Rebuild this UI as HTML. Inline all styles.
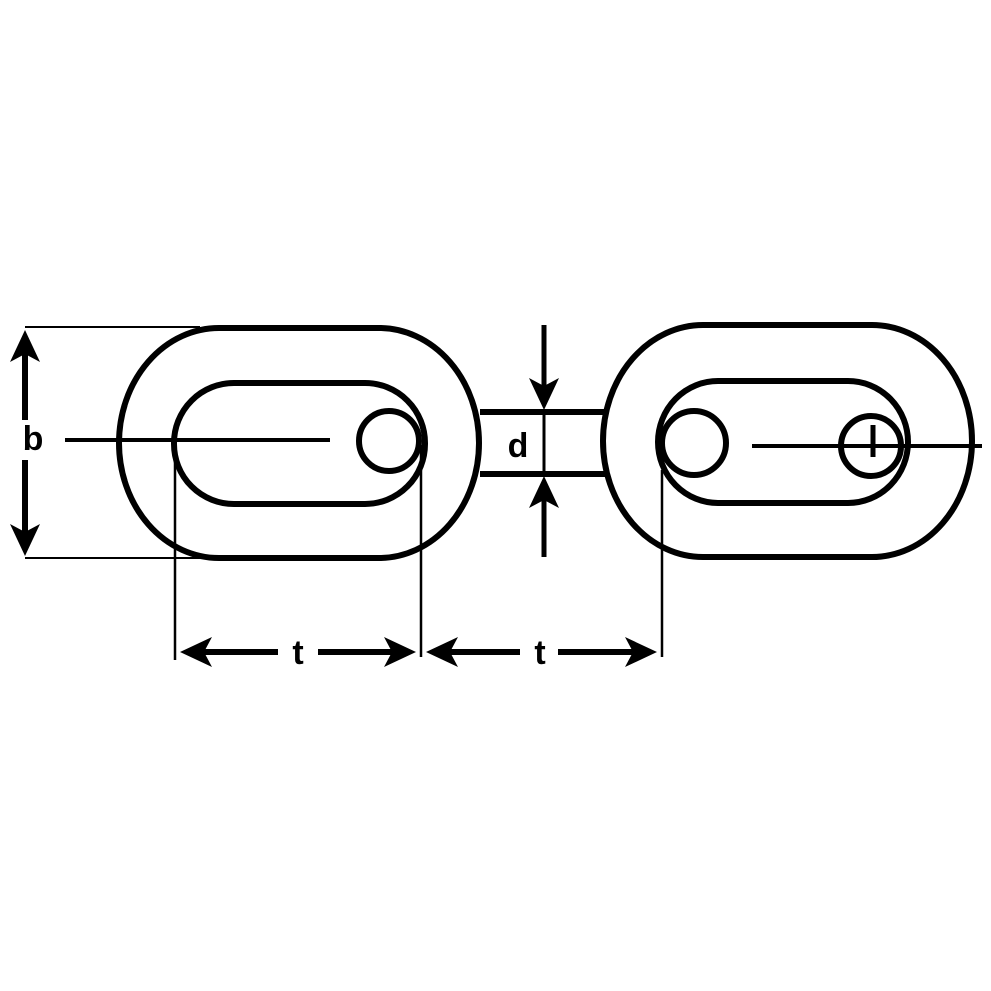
<!DOCTYPE html>
<html><head><style>body{margin:0;background:#fff}svg{display:block}</style></head>
<body>
<svg width="991" height="991" viewBox="0 0 991 991" xmlns="http://www.w3.org/2000/svg">
<g fill="none" stroke="#000">
<!-- left link -->
<rect x="119" y="328" width="360" height="230" rx="100" ry="115" stroke-width="6"/>
<rect x="174" y="383" width="251" height="121" rx="60" ry="60" stroke-width="6"/>
<circle cx="389" cy="441" r="30" stroke-width="6"/>
<line x1="65" y1="440" x2="330" y2="440" stroke-width="4"/>
<!-- connector -->
<line x1="480" y1="412" x2="605" y2="412" stroke-width="6"/>
<line x1="480" y1="474" x2="605" y2="474" stroke-width="6"/>
<!-- right link -->
<rect x="603" y="325" width="369" height="232" rx="100" ry="116" stroke-width="6"/>
<rect x="658" y="381" width="250" height="122" rx="60" ry="61" stroke-width="6"/>
<circle cx="694" cy="443" r="32" stroke-width="6"/>
<circle cx="871" cy="446" r="30" stroke-width="6"/>
<line x1="752" y1="446" x2="982" y2="446" stroke-width="4"/>
<line x1="873" y1="425" x2="873" y2="457" stroke-width="5"/>
<!-- b dimension -->
<line x1="25" y1="327" x2="200" y2="327" stroke-width="2"/>
<line x1="25" y1="558" x2="205" y2="558" stroke-width="2"/>
<line x1="25" y1="350" x2="25" y2="420" stroke-width="6"/>
<line x1="25" y1="460" x2="25" y2="535" stroke-width="6"/>
<!-- d dimension -->
<line x1="544" y1="325" x2="544" y2="395" stroke-width="5"/>
<line x1="544" y1="490" x2="544" y2="557" stroke-width="5"/>
<line x1="544" y1="412" x2="544" y2="474" stroke-width="3"/>
<!-- t dimension -->
<line x1="175" y1="445" x2="175" y2="660" stroke-width="2.5"/>
<line x1="421" y1="445" x2="421" y2="657" stroke-width="2.5"/>
<line x1="662" y1="470" x2="662" y2="657" stroke-width="2.5"/>
<line x1="200" y1="652" x2="278" y2="652" stroke-width="6"/>
<line x1="318" y1="652" x2="396" y2="652" stroke-width="6"/>
<line x1="446" y1="652" x2="520" y2="652" stroke-width="6"/>
<line x1="558" y1="652" x2="636" y2="652" stroke-width="6"/>
</g>
<g fill="#000">
<!-- b arrows -->
<polygon points="25,330 40,362 25,354 10,362"/>
<polygon points="25,556 40,524 25,532 10,524"/>
<!-- d arrows -->
<polygon points="544,410 559,378 544,386 529,378"/>
<polygon points="544,476 559,508 544,500 529,508"/>
<!-- t arrows -->
<polygon points="180,652 212,637 204,652 212,667"/>
<polygon points="416,652 384,637 392,652 384,667"/>
<polygon points="426,652 458,637 450,652 458,667"/>
<polygon points="657,652 625,637 633,652 625,667"/>
</g>
<g font-family="Liberation Sans, sans-serif" font-weight="bold" font-size="34" text-anchor="middle">
<text x="33" y="450">b</text>
<text x="518" y="457">d</text>
<text x="298" y="664">t</text>
<text x="540" y="664">t</text>
</g>
</svg>
</body></html>
